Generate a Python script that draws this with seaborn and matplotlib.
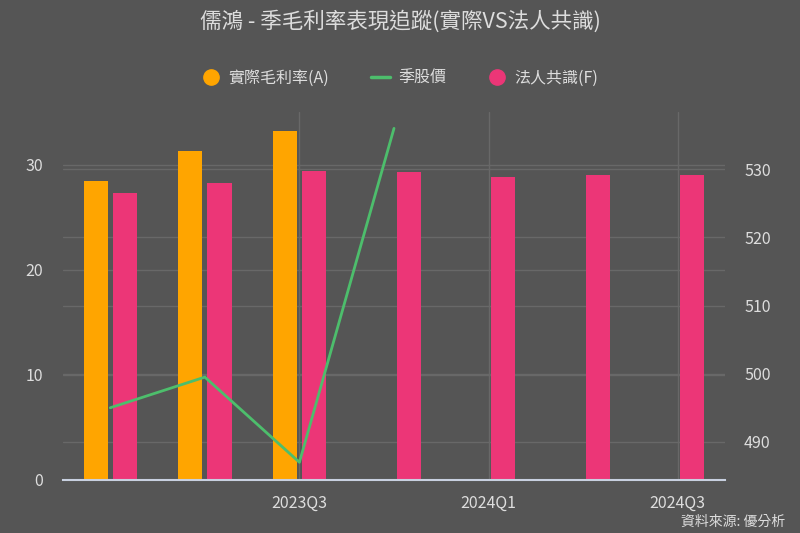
import numpy as np
import pandas as pd
import matplotlib
matplotlib.use('Agg')
import matplotlib.pyplot as plt
from matplotlib.lines import Line2D
import seaborn as sns

# 季度與數值
quarters = ['2023Q1', '2023Q2', '2023Q3', '2023Q4', '2024Q1', '2024Q2', '2024Q3']
actual_margin = [28.4, 31.3, 33.2, np.nan, np.nan, np.nan, np.nan]
consensus_margin = [27.3, 28.2, 29.4, 29.3, 28.8, 29.0, 29.0]
price = [495, 499.5, 487, 536]
tick_labels = ['2023Q3', '2024Q1', '2024Q3']

title = '儒鴻 - 季毛利率表現追蹤(實際VS法人共識)'
name_a = '實際毛利率(A)'
name_f = '法人共識(F)'
name_p = '季股價'

bg = '#555555'
c_a = '#FFA500'
c_f = '#EC3677'
c_p = '#4DBE6C'
txt = '#DDDDDD'
grid_c = '#686868'

sns.set_style('dark', {'axes.facecolor': bg, 'figure.facecolor': bg})
plt.rcParams['font.family'] = ['Noto Sans CJK TC', 'DejaVu Sans']

df = pd.DataFrame({
    'quarter': quarters * 2,
    'value': actual_margin + consensus_margin,
    'series': [name_a] * len(quarters) + [name_f] * len(quarters),
})

fig, ax = plt.subplots(figsize=(8, 5.33), dpi=100)
fig.subplots_adjust(left=63 / 800, right=725 / 800, top=1 - 112 / 533, bottom=1 - 480 / 533)

sns.barplot(data=df, x='quarter', y='value', hue='series', order=quarters,
            hue_order=[name_a, name_f], palette=[c_a, c_f], width=0.62, gap=0.18,
            saturation=1, legend=False, ax=ax, zorder=2, linewidth=0, edgecolor='none')

ax2 = ax.twinx()
sns.lineplot(x=np.arange(len(price)), y=price, color=c_p, linewidth=2, ax=ax2, zorder=3)

y1 = (0, 35)
y2 = (484.4, 538.4)
ax.set_ylim(*y1)
ax.set_yticks([0, 10, 20, 30])
ax2.set_ylim(*y2)
ax2.set_yticks([490, 500, 510, 520, 530])
ax.set_xlim(-0.5, len(quarters) - 0.5)
ax.set_xticks([quarters.index(t) for t in tick_labels])
ax.set_xticklabels(tick_labels)

for a in (ax, ax2):
    a.set_xlabel('')
    a.set_ylabel('')
    for s in a.spines.values():
        s.set_visible(False)
    a.tick_params(length=0, colors=txt, labelsize=11.5)
ax.grid(True, axis='both', color=grid_c, linewidth=1)
ax2.grid(False)
ax.set_axisbelow(True)
# 右軸格線畫在左軸上，讓它們位於長條之下
for v in ax2.get_yticks():
    yv = y1[0] + (v - y2[0]) / (y2[1] - y2[0]) * (y1[1] - y1[0])
    ax.axhline(yv, color=grid_c, linewidth=1, zorder=0.5)
ax.tick_params(axis='y', pad=14.4)
ax2.tick_params(axis='y', pad=13.7)
ax.tick_params(axis='x', pad=10.5)
ax.spines['bottom'].set_visible(True)
ax.spines['bottom'].set_color('#C8D0E0')
ax.spines['bottom'].set_linewidth(1.5)
ax2.set_zorder(ax.get_zorder() + 1)
ax2.patch.set_visible(False)

fig.text(0.5, 1 - 22 / 533, title, ha='center', va='center', color=txt, fontsize=15.5)

handles = [
    Line2D([], [], marker='o', linestyle='', color=c_a, markersize=11),
    Line2D([], [], color=c_p, linewidth=2.5),
    Line2D([], [], marker='o', linestyle='', color=c_f, markersize=11),
]
fig.legend(handles, [name_a, name_p, name_f], loc='center', bbox_to_anchor=(0.5, 1 - 78 / 533),
           ncol=3, frameon=False, fontsize=11.5, labelcolor=txt, handlelength=1.2,
           columnspacing=2.6, handletextpad=0.5)

fig.text(785 / 800, 1 - 522 / 533, '資料來源: 優分析', ha='right', va='center', color=txt, fontsize=10)

fig.savefig('out.png', dpi=100, facecolor=bg)
